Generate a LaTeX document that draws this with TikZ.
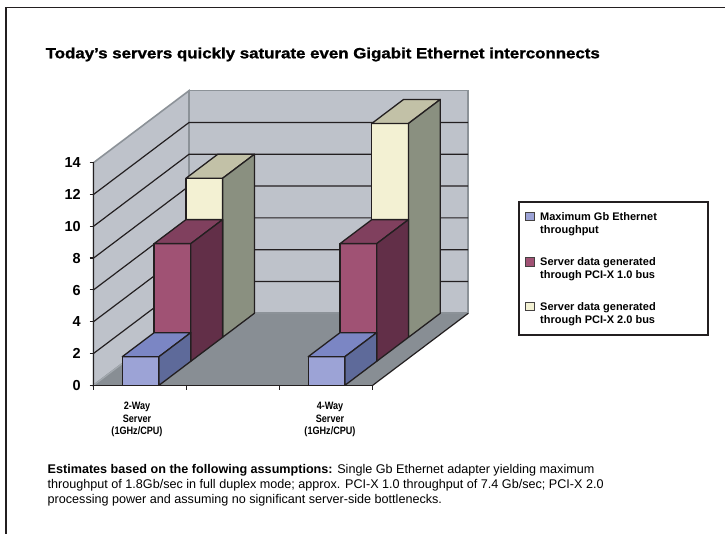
\documentclass[tikz,border=0pt]{standalone}
\usepackage{fontspec}
\setmainfont{Liberation Sans}
\newfontfamily\titlefont{Liberation Sans Bold}[FakeBold=1.2]
\definecolor{wallc}{HTML}{BEC2CA}
\definecolor{floorc}{HTML}{888E94}
\definecolor{walledge}{HTML}{8C9298}
\definecolor{baseedge}{HTML}{A3A9AF}
\definecolor{ink}{HTML}{231F20}
\definecolor{bluef}{HTML}{9CA3D6}
\definecolor{bluet}{HTML}{7B86C4}
\definecolor{blues}{HTML}{5E6A9A}
\definecolor{marf}{HTML}{A05274}
\definecolor{mart}{HTML}{80405E}
\definecolor{mars}{HTML}{622F48}
\definecolor{yelf}{HTML}{F3F1D3}
\definecolor{yelt}{HTML}{C2C1A7}
\definecolor{yels}{HTML}{8A9080}
\newcommand{\barthreed}[6]{%
  \pgfmathsetmacro\bxl{#1+31.8*#2}%
  \pgfmathsetmacro\bxr{\bxl+36.7}%
  \pgfmathsetmacro\byb{385.3-24*#2}%
  \pgfmathsetmacro\byt{\byb-15.9*#3}%
  \pgfmathsetmacro\bh{15.9*#3}%
  \filldraw[barline, fill=#4] (\bxl,\byb) rectangle (\bxr,\byt);
  \filldraw[barline, fill=#5] (\bxl,\byt) -- ++(31.8,-24) -- ++(36.7,0) -- (\bxr,\byt) -- cycle;
  \filldraw[barline, fill=#6] (\bxr,\byb) -- (\bxr,\byt) -- ++(31.8,-24) -- ++(0,\bh) -- cycle;
}
\begin{document}
\begin{tikzpicture}[x=1pt,y=-1pt,
  barline/.style={draw=ink, line width=1.3pt, line join=round},
  gridline/.style={draw=ink, line width=1.2pt},
  wallline/.style={draw=walledge, line width=1.6pt},
  ylab/.style={font=\fontsize{14.5}{16}\selectfont\bfseries, anchor=base east, inner sep=0pt},
  leg/.style={font=\fontsize{11}{13}\selectfont\bfseries, anchor=base west, inner sep=0pt},
  cat/.style={font=\fontsize{10.7}{12}\selectfont\bfseries, anchor=base, inner sep=0pt},
  note/.style={font=\fontsize{12.6}{15}\selectfont, anchor=base west, inner sep=0pt},
  legbox/.style={draw=ink!85, line width=0.7pt}
]
\useasboundingbox (0,0) rectangle (725,534);
\fill[white] (0,0) rectangle (725,534);
% frame
\draw[ink, line width=1.3pt] (6,534) -- (6,7.5) -- (725,7.5);
% title
\node[anchor=base west, inner sep=0pt, font=\fontsize{14.8}{17}\titlefont] (title) at (45.5,58.3)
  {\scalebox{1.14}[1]{Today’s servers quickly saturate even Gigabit Ethernet interconnects}};
% walls and floor
\fill[floorc] (93.5,385.3) -- (372.7,385.3) -- (468.2,313.3) -- (189,313.3) -- cycle;
\filldraw[fill=wallc, wallline] (93.5,385.3) -- (93.5,162.7) -- (189,90.7) -- (189,313.3) -- cycle;
\filldraw[fill=wallc, wallline] (189,90.7) rectangle (468.2,313.3);
\draw[baseedge, line width=1.2pt] (93.5,385.3) -- (189,313.3);
\draw[wallline] (189,313.3) -- (468.2,313.3);
\draw[gridline] (372.7,385.3) -- (468.2,313.3);
\foreach \v in {2,4,...,12}{
  \draw[gridline] (93.5,{385.3-15.9*\v}) -- (189,{313.3-15.9*\v}) -- (468.2,{313.3-15.9*\v});
}
% axes
\draw[ink, line width=1.2pt] (93.5,162.7) -- (93.5,385.3) -- (372.7,385.3);
\foreach \v in {0,2,...,14}{
  \draw[ink, line width=1.2pt] (89.5,{385.3-15.9*\v}) -- (93.5,{385.3-15.9*\v});
  \node[ylab] (y\v) at (81,{385.3-15.9*\v+5.2}) {\v};
}
\foreach \x in {93.5,186.6,279.7,372.7}{
  \draw[ink, line width=1.2pt] (\x,385.3) -- (\x,390);
}
% bars: back row first
\barthreed{122.3}{2}{10}{yelf}{yelt}{yels}
\barthreed{308.2}{2}{13.45}{yelf}{yelt}{yels}
\barthreed{122.3}{1}{7.4}{marf}{mart}{mars}
\barthreed{308.2}{1}{7.4}{marf}{mart}{mars}
\barthreed{122.3}{0}{1.8}{bluef}{bluet}{blues}
\barthreed{308.2}{0}{1.8}{bluef}{bluet}{blues}
% category labels
\node[cat] (c1a) at (137,409.5) {\scalebox{0.85}[1]{2-Way}};
\node[cat] (c1b) at (137,422) {\scalebox{0.85}[1]{Server}};
\node[cat] (c1c) at (137,434.5) {\scalebox{0.85}[1]{(1GHz/CPU)}};
\node[cat] (c2a) at (330,409.5) {\scalebox{0.85}[1]{4-Way}};
\node[cat] (c2b) at (330,422) {\scalebox{0.85}[1]{Server}};
\node[cat] (c2c) at (330,434.5) {\scalebox{0.85}[1]{(1GHz/CPU)}};
% legend
\draw[ink, line width=1.3pt] (519,202) rectangle (708,335);
\filldraw[legbox, fill=bluef] (525.8,212.2) rectangle (534.3,220.7);
\filldraw[legbox, fill=marf] (525.8,257.7) rectangle (534.3,266.2);
\filldraw[legbox, fill=yelf] (525.8,301.9) rectangle (534.3,310.4);
\node[leg] (l1a) at (540,220.5) {Maximum Gb Ethernet};
\node[leg] (l1b) at (540,233.8) {throughput};
\node[leg] (l2a) at (540,265.5) {Server data generated};
\node[leg] (l2b) at (540,278.8) {through PCI-X 1.0 bus};
\node[leg] (l3a) at (540,310.3) {Server data generated};
\node[leg] (l3b) at (540,323.5) {through PCI-X 2.0 bus};
% note
\node[note] (n1) at (47.5,473.5) {\textbf{Estimates based on the following assumptions:} Single Gb Ethernet adapter yielding maximum};
\node[note] (n2) at (47.5,488.5) {throughput of 1.8Gb/sec in full duplex mode; approx. PCI-X 1.0 throughput of 7.4 Gb/sec; PCI-X 2.0};
\node[note] (n3) at (47.5,503.5) {processing power and assuming no significant server-side bottlenecks.};
\end{tikzpicture}
\end{document}
